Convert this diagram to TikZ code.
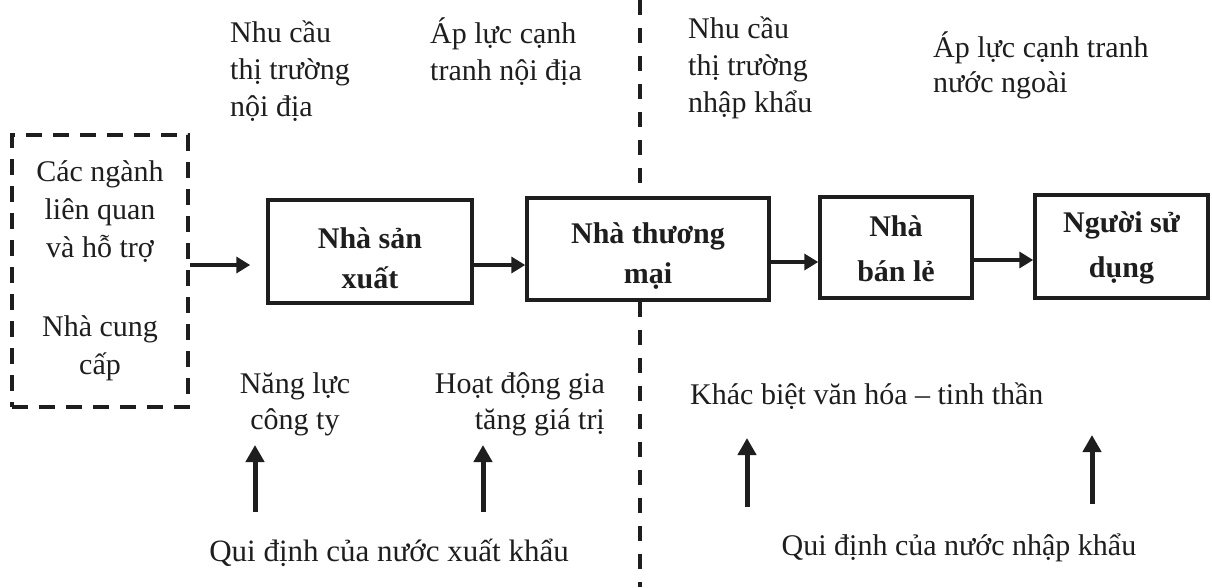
\documentclass[tikz,border=0pt]{standalone}
\usepackage{fontspec}
\setmainfont{Liberation Serif}
\usetikzlibrary{arrows.meta,calc}
\definecolor{ink}{HTML}{1E1E1E}
\begin{document}
\begin{tikzpicture}[x=1pt,y=-1pt,
  every node/.style={inner sep=0pt, text=ink},
  lbl/.style={font=\fontsize{30}{37}\selectfont, align=left},
  frame/.style={draw=ink, line width=3.5pt},
  boxtext/.style={align=center, font=\bfseries\fontsize{30}{40}\selectfont, text=ink},
  boxtextwide/.style={align=center, font=\bfseries\fontsize{30}{45}\selectfont, text=ink},
  dashframe/.style={draw=ink, line width=4pt, dash pattern=on 16pt off 11pt,
    font=\fontsize{30}{38}\selectfont, align=center},
  flow/.style={draw=ink, line width=4pt, -{Triangle[length=14pt,width=16pt]}},
  push/.style={draw=ink, line width=5pt, -{Triangle[length=17pt,width=18pt]}},
  divider/.style={draw=ink, line width=4.5pt, dash pattern=on 15pt off 13pt}]
\fill[white] (0,0) rectangle (1212,587);
\useasboundingbox (0,0) rectangle (1212,587);

% boxes
\node[dashframe, minimum width=176pt, minimum height=272pt] (sup) at (100,271)
  {Các ngành\\liên quan\\và hỗ trợ\\[41pt]Nhà cung\\cấp};
\node[frame, minimum width=204pt, minimum height=103pt,
  label={[boxtext,yshift=-7pt]center:{Nhà sản\\xuất}}] (ps) at (370,251.5) {};
\node[frame, minimum width=242pt, minimum height=102pt,
  label={[boxtext,yshift=-7pt]center:{Nhà thương\\mại}}] (tm) at (648,249) {};
\node[frame, minimum width=152pt, minimum height=101pt,
  label={[boxtextwide,yshift=-1pt]center:{Nhà\\bán lẻ}}] (bl) at (896,247.5) {};
\node[frame, minimum width=173pt, minimum height=103pt,
  label={[boxtextwide,yshift=-1pt]center:{Người sử\\dụng}}] (nd) at (1121.5,246.5) {};

% horizontal flow
\draw[flow, shorten >=16pt] ([yshift=6pt]sup.east) -- ([yshift=6pt]sup.east -| ps.west);
\draw[flow] ([yshift=-13.5pt]ps.east) -- ([yshift=-13.5pt]ps.east -| tm.west);
\draw[flow] ([yshift=-13pt]tm.east) -- ([yshift=-13pt]tm.east -| bl.west);
\draw[flow] ([yshift=-12.5pt]bl.east) -- ([yshift=-12.5pt]bl.east -| nd.west);

% divider
\coordinate (dv1) at (640,0);
\coordinate (dv2) at (640,587);
\draw[divider] (dv1) -- (dv1 |- tm.north);
\draw[divider] (tm.south -| dv2) -- (dv2);

% top labels
\node[lbl, anchor=west] (t1) at (230,71) {Nhu cầu\\thị trường\\nội địa};
\node[lbl, anchor=west] (t2) at (430,52) {Áp lực cạnh\\tranh nội địa};
\node[lbl, anchor=west] (t3) at (688,68) {Nhu cầu\\thị trường\\nhập khẩu};
\node[lbl, anchor=west, font=\fontsize{30}{35}\selectfont] (t4) at (933,65.5) {Áp lực cạnh tranh\\nước ngoài};

% bottom labels
\node[lbl, align=center, font=\fontsize{30}{36}\selectfont] (b1) at (295,404) {Năng lực\\công ty};
\node[lbl, align=right, anchor=east, font=\fontsize{30}{36}\selectfont] (b2) at (605,404) {Hoạt động gia\\tăng giá trị};
\node[lbl, anchor=west] (b3) at (690,396) {Khác biệt văn hóa – tinh thần};
\node[lbl, font=\fontsize{31}{37}\selectfont] (q1) at (389,553) {Qui định của nước xuất khẩu};
\node[lbl] (q2) at (959,548) {Qui định của nước nhập khẩu};

% up arrows
\coordinate (u1s) at (255,512); \coordinate (u1e) at (255,445);
\coordinate (u2s) at (483,512); \coordinate (u2e) at (483,445);
\coordinate (u3s) at (747,507); \coordinate (u3e) at (747,438);
\coordinate (u4s) at (1092,504); \coordinate (u4e) at (1092,435);
\draw[push] (u1s) -- (u1e);
\draw[push] (u2s) -- (u2e);
\draw[push] (u3s) -- (u3e);
\draw[push] (u4s) -- (u4e);
\end{tikzpicture}
\end{document}
